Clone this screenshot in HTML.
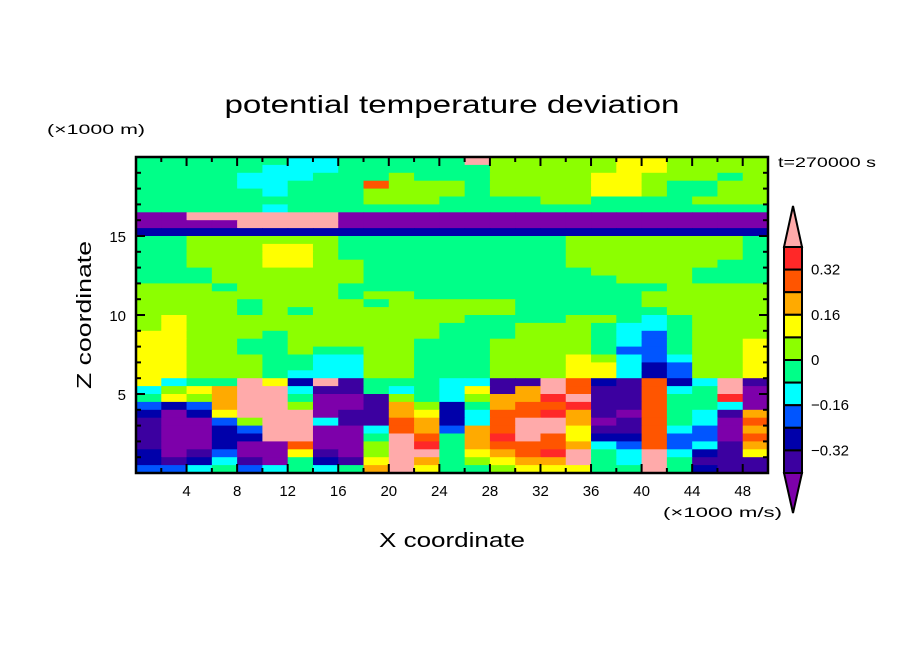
<!DOCTYPE html>
<html><head><meta charset="utf-8"><style>
html,body{margin:0;padding:0;background:#fff;}
svg{display:block;font-family:"Liberation Sans",sans-serif;}
</style></head><body>
<svg id="chart" width="904" height="654" viewBox="0 0 904 654" xmlns="http://www.w3.org/2000/svg">
<text x="452" y="113" font-size="25" text-anchor="middle" textLength="455" lengthAdjust="spacingAndGlyphs">potential temperature deviation</text>
<text x="47" y="134" font-size="14" textLength="98" lengthAdjust="spacingAndGlyphs">(×1000 m)</text>
<text x="778" y="167" font-size="14" textLength="98" lengthAdjust="spacingAndGlyphs">t=270000 s</text>
<text x="663" y="517" font-size="14" textLength="119" lengthAdjust="spacingAndGlyphs">(×1000 m/s)</text>
<text x="452" y="547" font-size="20" text-anchor="middle" textLength="146" lengthAdjust="spacingAndGlyphs">X coordinate</text>
<text x="0" y="0" font-size="20" text-anchor="middle" transform="translate(91,315) rotate(-90)" textLength="148" lengthAdjust="spacingAndGlyphs">Z coordinate</text>
<g id="cells"></g>
<g id="axes"></g>
<g id="cbar"></g>
</svg>
<script>
// grid rows from top (z=20) to bottom (z=0), 0.5 km per row; 25 columns of 2 km
const gridRows = [
"5555554455555b66666776666",
"5555544455555566666776666",
"5555444555655566667766656",
"5555445559666566667765566",
"5555545556666566667765566",
"5555555556665555665555666",
"5555545555555555555555555",
"00bbbbbb00000000000000000",
"0000bbbb00000000000000000",
"2222222222222222222222222",
"5566666655555555566666665",
"5566677655555555566666665",
"5566677655555555566666665",
"5566677665555555566666655",
"5556666665555555556666555",
"5556666665555555555666555",
"6665666655555555555556666",
"6666666656655555555566666",
"6666566665666665555566666",
"6666565666666665555556666",
"6766666666666555566545666",
"6766666666665556665445666",
"7766656666665556665435666",
"7766556666655566665435667",
"7766556556655566665335667",
"7766655446655566676434667",
"7766655446655566677423667",
"7766654446655566677423667",
"7455b72b15554411b921924b1",
"4678bb4115454718b911945b0",
"5768bb5001654688ab11955a0",
"3238bb60018625899a1195540",
"2027bbb011872499a81095418",
"10036bb41198249bb80195409",
"10023bb00498389bb71194308",
"10022bb005b958ab972293309",
"1002009006ba58999843934 18".replace(' ',''),
"2013007106bb5789ab54b4217",
"2124105217b856788b54b5111",
"3345345458b755677755b5211"
];
const levelColors = ["#7d00aa","#3c00a0","#0000aa","#0055ff","#00ffff","#00ff88","#8cff00","#ffff00","#ffaa00","#ff5500","#ff2828","#ffaaaa"];
const xTicks = [4,8,12,16,20,24,28,32,36,40,44,48];
const yTicks = [5,10,15];
const cbarLabels = ["0.32","0.16","0","\u22120.16","\u22120.32"];

const NS="http://www.w3.org/2000/svg";
const L=136,R=768,T=157,B=473;
const xMin=0,xMax=50,zMin=0,zMax=20;
const xs=v=>L+(v-xMin)/(xMax-xMin)*(R-L);
const zs=v=>B-(v-zMin)/(zMax-zMin)*(B-T);
function mk(tag,attrs,parent){const e=document.createElementNS(NS,tag);for(const k in attrs)e.setAttribute(k,attrs[k]);parent.appendChild(e);return e;}

const cells=document.getElementById('cells');
const nRows=gridRows.length;
const dz=(zMax-zMin)/nRows;
gridRows.forEach((row,r)=>{
  const nCols=row.length;
  const dx=(xMax-xMin)/nCols;
  for(let c=0;c<nCols;c++){
    const lv=parseInt(row[c],16);
    const x0=xs(c*dx),x1=xs((c+1)*dx);
    const zTop=zMax-r*dz,zBot=zTop-dz;
    const e=mk('rect',{x:x0,y:zs(zTop),width:x1-x0+0.6,height:zs(zBot)-zs(zTop)+0.6,fill:levelColors[lv]||"#00ff88"},cells);
    
    
  }
});

const axes=document.getElementById('axes');
for(let v=2;v<50;v+=2){
  const major=v%4===0,len=major?9:5;
  mk('line',{x1:xs(v),x2:xs(v),y1:B,y2:B-len,stroke:"#000","stroke-width":2},axes);
  mk('line',{x1:xs(v),x2:xs(v),y1:T,y2:T+len,stroke:"#000","stroke-width":2},axes);
}
for(let v=1;v<20;v++){
  const major=v%5===0,len=major?9:5;
  mk('line',{x1:L,x2:L+len,y1:zs(v),y2:zs(v),stroke:"#000","stroke-width":2},axes);
  mk('line',{x1:R,x2:R-len,y1:zs(v),y2:zs(v),stroke:"#000","stroke-width":2},axes);
}
xTicks.forEach(v=>{
  const t=mk('text',{x:xs(v),y:496,"font-size":15,"text-anchor":"middle"},axes);t.textContent=v;
  
  
});
yTicks.forEach(v=>{
  const t=mk('text',{x:126,y:zs(v)+6,"font-size":15,"text-anchor":"end"},axes);t.textContent=v;
  
  
});
const fr=mk('rect',{x:L,y:T,width:R-L,height:B-T,fill:"none",stroke:"#000","stroke-width":2.5},axes);



const cb=document.getElementById('cbar');
const cbL=784,cbR=802,cbT=247,cbB=473,nb=10,bh=(cbB-cbT)/nb;
mk('polygon',{points:`${cbL},${cbT} ${cbR},${cbT} ${(cbL+cbR)/2},206`,fill:levelColors[11],stroke:"#000","stroke-width":2},cb);
mk('polygon',{points:`${cbL},${cbB} ${cbR},${cbB} ${(cbL+cbR)/2},513`,fill:levelColors[0],stroke:"#000","stroke-width":2},cb);
for(let i=0;i<nb;i++){
  const e=mk('rect',{x:cbL,y:cbT+i*bh,width:cbR-cbL,height:bh,fill:levelColors[10-i],stroke:"#000","stroke-width":2},cb);
  
  
}
cbarLabels.forEach((s,i)=>{
  const t=mk('text',{x:811,y:cbT+(2*i+1)*bh+5,"font-size":15},cb);t.textContent=s;
  
  
});
</script>
</body></html>
